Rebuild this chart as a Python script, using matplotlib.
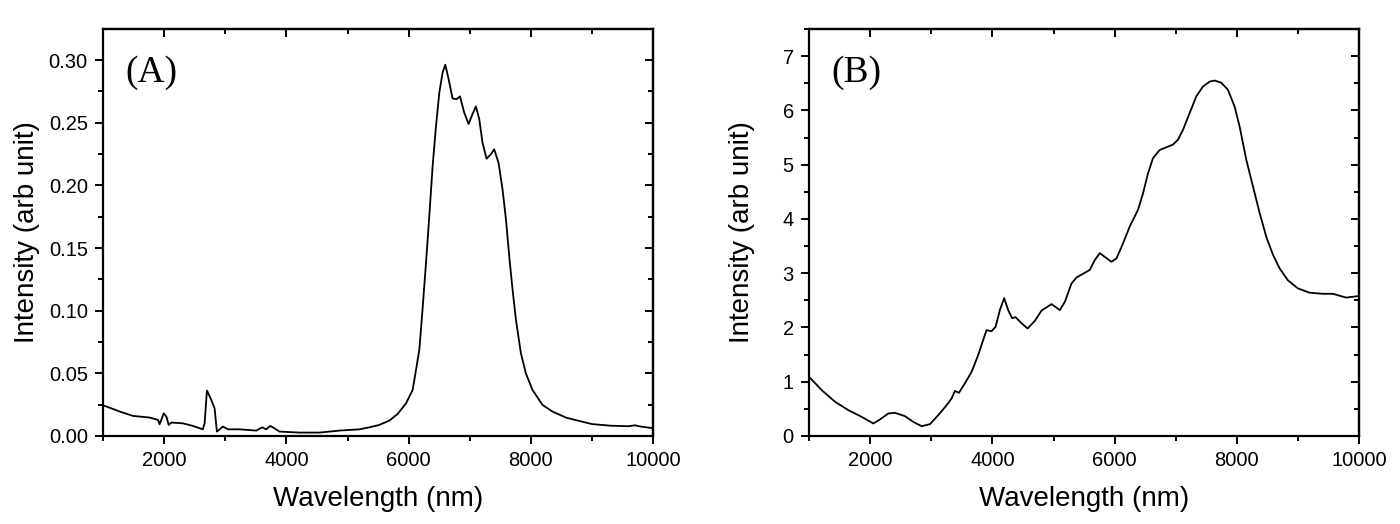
import numpy as np
import matplotlib.pyplot as plt
from matplotlib.ticker import MultipleLocator

# ---------- data ----------
# (A) emission spectrum
wl_a = [1000, 1273, 1490, 1763, 1899, 1926, 1992, 2036, 2074, 2118, 2307, 2471,
        2634, 2662, 2700, 2771, 2825, 2863, 2961, 3043, 3234, 3507, 3604, 3670,
        3735, 3806, 3887, 4214, 4541, 4868, 5195, 5358, 5521, 5685, 5820, 5957,
        6066, 6121, 6175, 6219, 6284, 6338, 6393, 6448, 6502, 6556, 6600, 6654,
        6719, 6785, 6840, 6910, 6981, 7046, 7101, 7155, 7209, 7275, 7346, 7400,
        7471, 7536, 7592, 7646, 7700, 7755, 7837, 7918, 8026, 8190, 8353, 8572,
        8789, 9000, 9300, 9600, 9700, 9800, 10000]
int_a = [0.0245, 0.0195, 0.0160, 0.0147, 0.0128, 0.0093, 0.0180, 0.0155, 0.0088,
         0.0107, 0.0101, 0.0080, 0.0053, 0.0101, 0.0363, 0.0288, 0.0221, 0.0035,
         0.0075, 0.0053, 0.0053, 0.0043, 0.0069, 0.0053, 0.0080, 0.0061, 0.0035,
         0.0027, 0.0027, 0.0043, 0.0053, 0.0069, 0.0088, 0.0123, 0.0176, 0.0260,
         0.0368, 0.0528, 0.0688, 0.0955, 0.1380, 0.1755, 0.2155, 0.2475, 0.2740,
         0.2900, 0.2963, 0.2848, 0.2693, 0.2688, 0.2710, 0.2580, 0.2490, 0.2570,
         0.2630, 0.2530, 0.2340, 0.2213, 0.2248, 0.2288, 0.2180, 0.1970, 0.1730,
         0.1435, 0.1170, 0.0930, 0.0660, 0.0500, 0.0368, 0.0248, 0.0195, 0.0147,
         0.0120, 0.0095, 0.0082, 0.0078, 0.0085, 0.0075, 0.0062]

# (B) emission spectrum
wl_b = [1000, 1207, 1425, 1643, 1861, 2052, 2160, 2297, 2406, 2569, 2705, 2842,
        2978, 3114, 3251, 3332, 3386, 3452, 3550, 3659, 3767, 3849, 3904, 3986,
        4051, 4122, 4192, 4258, 4323, 4378, 4465, 4575, 4694, 4803, 4967, 5103,
        5185, 5294, 5376, 5500, 5593, 5675, 5757, 5838, 5947, 6029, 6138, 6247,
        6383, 6464, 6546, 6628, 6737, 6846, 6955, 7036, 7118, 7227, 7337, 7445,
        7554, 7636, 7745, 7853, 7963, 8045, 8154, 8263, 8372, 8481, 8590, 8698,
        8834, 8998, 9189, 9407, 9570, 9789, 10000]
int_b = [1.09, 0.845, 0.63, 0.476, 0.352, 0.23, 0.304, 0.415, 0.426, 0.365, 0.26,
         0.18, 0.218, 0.384, 0.568, 0.69, 0.83, 0.795, 0.97, 1.18, 1.49, 1.77,
         1.95, 1.93, 2.01, 2.32, 2.54, 2.32, 2.17, 2.19, 2.09, 1.98, 2.12, 2.31,
         2.43, 2.32, 2.47, 2.81, 2.92, 3.0, 3.06, 3.24, 3.37, 3.30, 3.21, 3.27,
         3.55, 3.86, 4.17, 4.47, 4.84, 5.12, 5.27, 5.32, 5.37, 5.46, 5.64, 5.95,
         6.26, 6.44, 6.53, 6.55, 6.51, 6.38, 6.07, 5.70, 5.09, 4.60, 4.11, 3.67,
         3.34, 3.09, 2.87, 2.72, 2.64, 2.62, 2.62, 2.55, 2.58]

panels = ["(A)", "(B)"]
xlabel = "Wavelength (nm)"
ylabel = "Intensity (arb unit)"

plt.rcParams['font.family'] = ['Liberation Sans', 'DejaVu Sans']

fig = plt.figure(figsize=(14, 5.24), dpi=100)
ax_a = fig.add_axes([0.0736, 0.168, 0.3929, 0.7767])
ax_b = fig.add_axes([0.5779, 0.168, 0.3929, 0.7767])


def style_axes(ax, ymax, ymajor, yminor, yfmt, tag, ylab_x):
    ax.set_xlim(1000, 10000)
    ax.set_ylim(0, ymax)
    ax.xaxis.set_major_locator(MultipleLocator(2000))
    ax.xaxis.set_minor_locator(MultipleLocator(1000))
    ax.yaxis.set_major_locator(MultipleLocator(ymajor))
    ax.yaxis.set_minor_locator(MultipleLocator(yminor))
    ax.yaxis.set_major_formatter(yfmt)
    for s in ax.spines.values():
        s.set_linewidth(1.6)
    ax.tick_params(which='major', direction='out', length=6, width=1.4,
                   labelsize=14.5, pad=5)
    ax.tick_params(which='minor', direction='out', length=3.5, width=1.4)
    # mirrored ticks pointing inward on top / right
    top = ax.secondary_xaxis('top')
    top.xaxis.set_major_locator(MultipleLocator(2000))
    top.xaxis.set_minor_locator(MultipleLocator(1000))
    top.tick_params(which='major', direction='in', length=6, width=1.4, labeltop=False)
    top.tick_params(which='minor', direction='in', length=3.5, width=1.4)
    top.spines['top'].set_linewidth(1.6)
    right = ax.secondary_yaxis('right')
    right.yaxis.set_major_locator(MultipleLocator(ymajor))
    right.yaxis.set_minor_locator(MultipleLocator(yminor))
    right.tick_params(which='major', direction='in', length=6, width=1.4, labelright=False)
    right.tick_params(which='minor', direction='in', length=3.5, width=1.4)
    right.spines['right'].set_linewidth(1.6)
    ax.set_xlabel(xlabel, fontsize=20)
    ax.xaxis.set_label_coords(0.5, -0.123)
    ax.set_ylabel(ylabel, fontsize=20)
    ax.yaxis.set_label_coords(ylab_x, 0.5)
    ax.text(0.04, 0.935, tag, transform=ax.transAxes, fontsize=27,
            family='Liberation Serif', va='top', ha='left')


ax_a.plot(wl_a, int_a, color='black', lw=1.3)
style_axes(ax_a, 0.3248, 0.05, 0.025, '{x:.2f}', panels[0], -0.115)

ax_b.plot(wl_b, int_b, color='black', lw=1.3)
style_axes(ax_b, 7.5, 1, 0.5, '{x:.0f}', panels[1], -0.099)

fig.savefig('out.png', dpi=100)
